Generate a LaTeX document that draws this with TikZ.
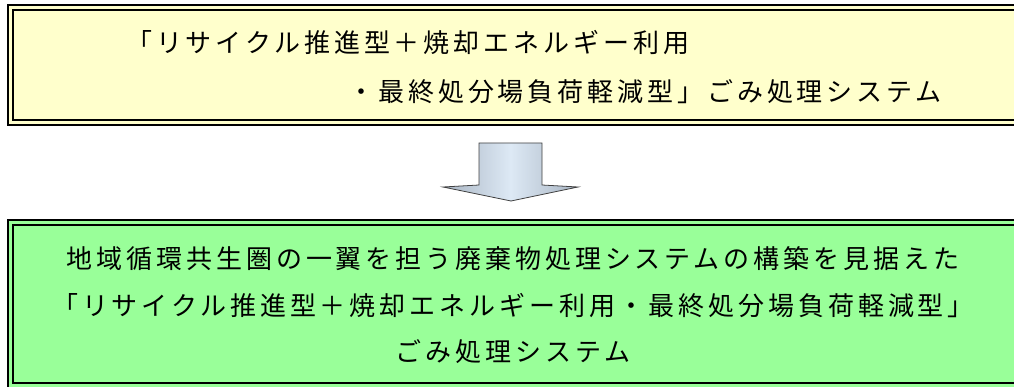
\documentclass[tikz,border=0pt]{standalone}
\usepackage{fontspec}
\newfontfamily\jp[LetterSpace=15]{Noto Sans CJK JP}
\definecolor{yfill}{HTML}{FFFFCC}
\definecolor{gfill}{HTML}{99FF99}
\definecolor{arrdark}{HTML}{A9B5C3}
\definecolor{arrlight}{HTML}{DDE9F5}
\tikzset{
  dbox/.style={draw=black, line width=2pt, double distance=3pt, rectangle, anchor=north west, inner sep=0pt},
  txt/.style={font=\jp\fontsize{26}{26}\selectfont, inner sep=0pt, text=black},
}
\begin{document}
\begin{tikzpicture}[x=1pt,y=-1pt]
\useasboundingbox (0,0) rectangle (1014,387);
\begin{scope}
\clip (0,0) rectangle (1014,387);
\node[dbox, fill=yfill, double=yfill, minimum width=1011pt, minimum height=115pt] (topbox) at (9,7) {};
\node[dbox, fill=gfill, double=gfill, minimum width=1011pt, minimum height=163pt] (botbox) at (9,221.5) {};
\end{scope}
\node[txt, anchor=west] (t1) at (126,43) {「リサイクル推進型＋焼却エネルギー利用};
\node[txt, anchor=east] (t2) at (942,92) {・最終処分場負荷軽減型」ごみ処理システム};
\node[txt] (b1) at (513,259) {地域循環共生圏の一翼を担う廃棄物処理システムの構築を見据えた};
\node[txt] (b2) at (513,306) {「リサイクル推進型＋焼却エネルギー利用・最終処分場負荷軽減型」};
\node[txt] (b3) at (513,352) {ごみ処理システム};
\shadedraw[draw=black!75, line width=0.8pt, left color=arrdark, right color=arrdark, middle color=arrlight]
  (479,143) -- (542,143) -- (542,185) -- (578,187) -- (511,201) -- (443,187) -- (479,185) -- cycle;
\end{tikzpicture}
\end{document}
